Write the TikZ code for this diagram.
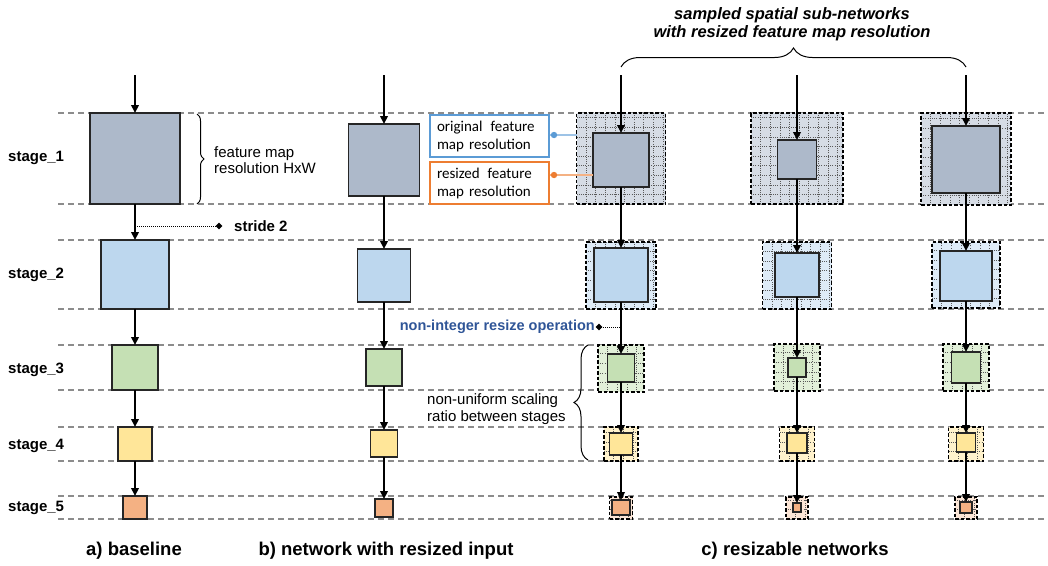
\documentclass[tikz,border=0pt]{standalone}
\usepackage{fontspec}
\setmainfont{Liberation Sans}
\newfontfamily\calfont{Carlito}
\usetikzlibrary{arrows.meta,decorations.pathreplacing,shapes.geometric}
\definecolor{sAin}{HTML}{ADB9CA}\definecolor{sAout}{HTML}{D6DCE5}
\definecolor{sBin}{HTML}{BDD7EE}\definecolor{sBout}{HTML}{DEEBF7}
\definecolor{sCin}{HTML}{C5E0B4}\definecolor{sCout}{HTML}{E2F0D9}
\definecolor{sDin}{HTML}{FFE699}\definecolor{sDout}{HTML}{FFF2CC}
\definecolor{sEin}{HTML}{F4B183}\definecolor{sEout}{HTML}{FBE5D6}
\definecolor{hlgray}{HTML}{8C8C8C}
\definecolor{cblue}{HTML}{5B9BD5}\definecolor{cbluel}{HTML}{9DC3E6}
\definecolor{corange}{HTML}{ED7D31}\definecolor{corangel}{HTML}{F4B183}
\definecolor{opblue}{HTML}{2F5597}
\newcommand{\setfs}[2]{\fontsize{#1}{#2}\selectfont}
\tikzset{
  sz/.style 2 args={minimum width=#1pt, minimum height=#2pt},
  box/.style={draw=black!85, line width=1.2pt, inner sep=0pt, outer sep=0pt},
  ib/.style={box, fill=#1},
  gridl/.style={black!65, line width=0.6pt, dash pattern=on 1pt off 1.2pt},
  ob/.style={draw=black, line width=1.2pt, dash pattern=on 3.5pt off 2pt, inner sep=0pt, outer sep=0pt, fill=#1,
    path picture={
      \foreach \k in {1,...,10}{
        \draw[gridl] ([xshift=\k*9.6pt]path picture bounding box.south west) -- ([xshift=\k*9.6pt]path picture bounding box.north west);
        \draw[gridl] ([yshift=\k*9.6pt]path picture bounding box.south west) -- ([yshift=\k*9.6pt]path picture bounding box.south east);
      }}},
  hline/.style={hlgray, line width=1.2pt, dash pattern=on 6pt off 4pt},
  arr/.style={line width=2pt, -{Triangle[length=8pt,width=7.5pt]}},
  dotl/.style={black, line width=0.9pt, dash pattern=on 1pt off 1pt},
  dmd/.style={diamond, fill=black, inner sep=0pt, minimum width=7pt, minimum height=7pt},
  stagel/.style={font=\setfs{15}{18}\bfseries, anchor=west, inner sep=0pt},
  capl/.style={font=\setfs{18.5}{22}\bfseries, inner sep=0pt},
  plain/.style={font=\setfs{15}{16}, align=left, inner sep=0pt},
  brc/.style={decorate, line width=1pt, decoration={brace, amplitude=#1}},
  callout/.style={draw=#1, line width=1.2pt, fill=white, minimum width=119pt, minimum height=42pt,
    text width=105pt, inner xsep=7pt, align=left, font=\calfont\setfs{15}{18}},
}
\begin{document}
\begin{tikzpicture}[x=1pt,y=-1pt]
\useasboundingbox (0,0) rectangle (1048,565);

% horizontal dashed lines
\foreach \yy in {113,204,240,309,345,390,427,461,496,519}
  \draw[hline] (58,\yy) -- (1046,\yy);

% stage labels
\node[stagel] (l1) at (8,158) {stage\_1};
\node[stagel] (l2) at (8,275) {stage\_2};
\node[stagel] (l3) at (8,370) {stage\_3};
\node[stagel] (l4) at (8,446) {stage\_4};
\node[stagel] (l5) at (8,508) {stage\_5};

% column a: baseline
\coordinate (ta) at (135,75);
\node[ib=sAin, sz={90}{91}] (a1) at (135,158.5) {};
\node[ib=sBin, sz={68}{69}] (a2) at (135,274.5) {};
\node[ib=sCin, sz={46}{45}] (a3) at (135,367.5) {};
\node[ib=sDin, sz={34}{34}] (a4) at (135,444) {};
\node[ib=sEin, sz={24}{23}] (a5) at (135,507.5) {};
\draw[arr] (ta) -- (a1.north);
\draw[arr] (a1.south) -- (a2.north);
\draw[arr] (a2.south) -- (a3.north);
\draw[arr] (a3.south) -- (a4.north);
\draw[arr] (a4.south) -- (a5.north);

% brace feature map
\draw[brc=7pt] (197,114) -- (197,204);
\node[plain, anchor=west] (fm) at (214,160) {feature map\\resolution HxW};

% stride 2
\coordinate (sd) at (219,226);
\draw[dotl] (a1.south |- sd) -- (sd);
\node[dmd] (sdm) at (sd) {};
\node[font=\setfs{15}{18}\bfseries, anchor=west, inner sep=0pt] (st) at (234,226) {stride 2};

% column b
\coordinate (tb) at (384,75);
\node[ib=sAin, sz={71}{72}] (b1) at (384,160) {};
\node[ib=sBin, sz={53}{53}] (b2) at (384,275.5) {};
\node[ib=sCin, sz={36}{37}] (b3) at (384,367.5) {};
\node[ib=sDin, sz={27}{27}] (b4) at (384,443.5) {};
\node[ib=sEin, sz={18}{18}] (b5) at (384,508) {};
\draw[arr] (tb) -- (b1.north);
\draw[arr] (b1.south) -- (b2.north);
\draw[arr] (b2.south) -- (b3.north);
\draw[arr] (b3.south) -- (b4.north);
\draw[arr] (b4.south) -- (b5.north);

% column c1
\node[ob=sAout, sz={89}{91}] (o11) at (621,158.5) {};
\node[ob=sBout, sz={70}{67}] (o12) at (621,275.5) {};
\node[ob=sCout, sz={46}{47}] (o13) at (621,368.5) {};
\node[ob=sDout, sz={34}{34}] (o14) at (621,444) {};
\node[ob=sEout, sz={23}{22}] (o15) at (621,508) {};
\node[ib=sAin, sz={56}{54}] (i11) at (621,160) {};
\node[ib=sBin, sz={54}{54}] (i12) at (621,275) {};
\node[ib=sCin, sz={27}{28}] (i13) at (621,368) {};
\node[ib=sDin, sz={23}{22}] (i14) at (621,444) {};
\node[ib=sEin, sz={18}{15}] (i15) at (621,507.5) {};

% column c2
\node[ob=sAout, sz={92}{91}] (o21) at (797,158.5) {};
\node[ob=sBout, sz={69}{67}] (o22) at (797,275.5) {};
\node[ob=sCout, sz={46}{47}] (o23) at (797,367.5) {};
\node[ob=sDout, sz={35}{34}] (o24) at (797,444) {};
\node[ob=sEout, sz={22}{22}] (o25) at (797,508) {};
\node[ib=sAin, sz={39}{39}] (i21) at (797,159.5) {};
\node[ib=sBin, sz={44}{44}] (i22) at (797,275) {};
\node[ib=sCin, sz={18}{19}] (i23) at (797,367.5) {};
\node[ib=sDin, sz={20}{20}] (i24) at (797,443) {};
\node[ib=sEin, sz={8}{9}] (i25) at (797,507.5) {};

% column c3
\node[ob=sAout, sz={90}{92}] (o31) at (966,159) {};
\node[ob=sBout, sz={68}{66}] (o32) at (966,275) {};
\node[ob=sCout, sz={46}{47}] (o33) at (966,367.5) {};
\node[ob=sDout, sz={35}{34}] (o34) at (966,444) {};
\node[ob=sEout, sz={22}{22}] (o35) at (966,508) {};
\node[ib=sAin, sz={68}{67}] (i31) at (966,159.5) {};
\node[ib=sBin, sz={52}{50}] (i32) at (966,276) {};
\node[ib=sCin, sz={29}{31}] (i33) at (966,367.5) {};
\node[ib=sDin, sz={19}{19}] (i34) at (966,442.5) {};
\node[ib=sEin, sz={12}{11}] (i35) at (966,507.5) {};

\foreach \cc in {1,2,3}{
  \draw[arr] (i\cc1.south) -- (i\cc2.north);
  \draw[arr] (i\cc2.south) -- (i\cc3.north);
  \draw[arr] (i\cc3.south) -- (i\cc4.north);
  \draw[arr] (i\cc4.south) -- (i\cc5.north);
}
\coordinate (tc1) at (621,75);
\coordinate (tc2) at (797,75);
\coordinate (tc3) at (966,75);
\draw[arr] (tc1) -- (i11.north);
\draw[arr] (tc2) -- (i21.north);
\draw[arr] (tc3) -- (i31.north);

% title brace
\draw[brc=19pt] (621,67) -- (966,67);
\node[font=\setfs{16.5}{18}\bfseries\itshape, align=center, inner sep=0pt] (title) at (792,24)
  {sampled spatial sub-networks\\with resized feature map resolution};

% callouts
\node[callout=cblue] (cb) at (489.5,136) {original\hspace{8pt}feature\\map resolution};
\node[callout=corange] (co) at (489.5,183) {resized\hspace{8pt}feature\\map resolution};
\coordinate (bd) at (554,135);
\coordinate (od) at (554,175);
\draw[cbluel, line width=1.2pt] (cb.east |- bd) -- (bd -| o11.west);
\fill[cblue] (bd) circle (3.2pt);
\draw[corangel, line width=1.2pt] (co.east |- od) -- (od -| i11.west);
\fill[corange] (od) circle (3.2pt);

% non-integer resize operation
\coordinate (nd) at (599,327);
\draw[dotl] (nd) -- (nd -| i12.south);
\node[dmd] (ndm) at (nd) {};
\node[font=\setfs{14.5}{18}\bfseries, text=opblue, anchor=east, inner sep=0pt] (nio) at (595,327) {non-integer resize operation};

% non-uniform scaling
\draw[brc=14pt] (588,460) -- (588,345);
\node[plain, anchor=west, font=\setfs{15}{16.5}] (nus) at (427,409) {non-uniform scaling\\ratio between stages};

% captions
\node[capl] (ca) at (134,551) {a) baseline};
\node[capl] (cbb) at (386,551) {b) network with resized input};
\node[capl] (cc) at (795,551) {c) resizable networks};
\end{tikzpicture}
\end{document}
